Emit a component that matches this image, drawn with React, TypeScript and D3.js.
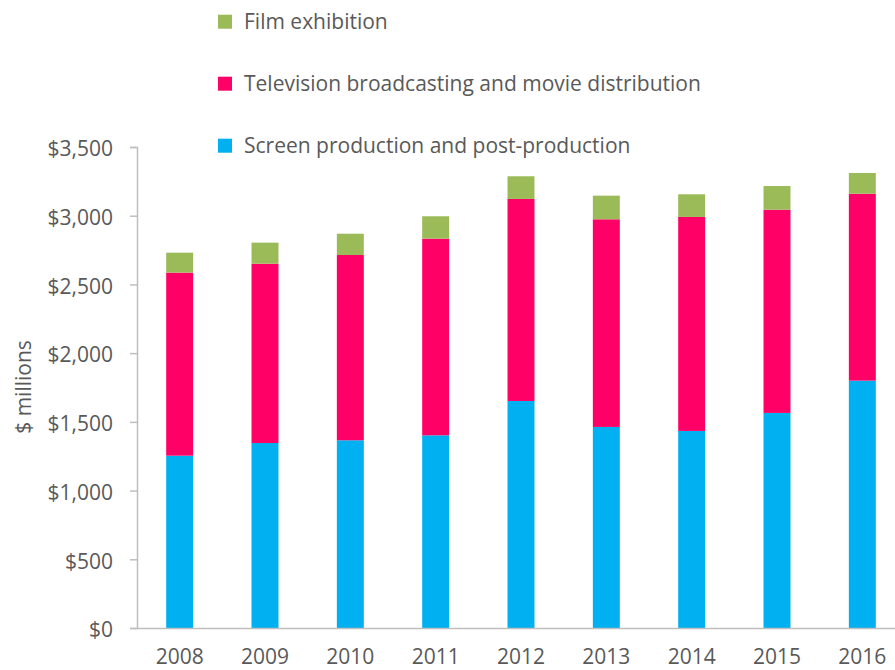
import * as d3 from "d3";
import { useEffect, useRef } from "react";

// values ($ millions)
const years = ["2008", "2009", "2010", "2011", "2012", "2013", "2014", "2015", "2016"];
const screenProduction = [1254, 1346, 1366, 1402, 1652, 1463, 1434, 1565, 1800];
const tvBroadcasting = [1332, 1305, 1348, 1431, 1470, 1511, 1557, 1479, 1360];
const filmExhibition = [145, 153, 155, 163, 165, 172, 165, 172, 151];
const yTicks = [0, 500, 1000, 1500, 2000, 2500, 3000, 3500];

const seriesNames = [
  "Screen production and post-production",
  "Television broadcasting and movie distribution",
  "Film exhibition",
];
const colors = ["#00B0F0", "#FF0066", "#9BBB59"];

const W = 895;
const H = 670;
const FONT = "'Open Sans', 'Noto Sans', sans-serif";
const TEXT = "#595959";

export default function App() {
  const ref = useRef<SVGSVGElement | null>(null);

  useEffect(() => {
    const svg = d3.select(ref.current);
    svg.selectAll("*").remove();

    const left = 137;
    const top = 147;
    const bottom = 628;
    const right = 905; // plot runs past the picture edge, like the source

    const rows = years.map((y, i) => ({
      year: y,
      s0: screenProduction[i],
      s1: tvBroadcasting[i],
      s2: filmExhibition[i],
    }));
    const layers = d3.stack<any>().keys(["s0", "s1", "s2"])(rows);

    const x = d3.scaleBand().domain(years).range([left, right]).paddingInner(0.684).paddingOuter(0.342);
    const y = d3.scaleLinear().domain([0, 3500]).range([bottom, top]);

    // bars
    svg
      .append("g")
      .selectAll("g")
      .data(layers)
      .join("g")
      .attr("fill", (_d, i) => colors[i])
      .selectAll("rect")
      .data((d) => d)
      .join("rect")
      .attr("x", (d: any) => x(d.data.year)!)
      .attr("width", x.bandwidth())
      .attr("y", (d) => y(d[1]))
      .attr("height", (d) => y(d[0]) - y(d[1]));

    // y axis
    const yAxis = svg
      .append("g")
      .attr("transform", `translate(${left},0)`)
      .call(
        d3
          .axisLeft(y)
          .tickValues(yTicks)
          .tickSize(7)
          .tickPadding(17)
          .tickFormat((d) => "$" + d3.format(",")(d as number))
      );
    yAxis.select(".domain").attr("stroke", "#BFBFBF").attr("stroke-width", 1.5);
    yAxis.selectAll(".tick line").attr("stroke", "#BFBFBF").attr("stroke-width", 1.5);
    yAxis
      .selectAll(".tick text")
      .attr("fill", TEXT)
      .attr("font-family", FONT)
      .attr("font-size", 21)
      .attr("dy", "0.42em");

    // x axis
    const xAxis = svg
      .append("g")
      .attr("transform", `translate(0,${bottom})`)
      .call(d3.axisBottom(x).tickSize(0).tickPadding(21));
    xAxis.select(".domain").attr("stroke", "#BFBFBF").attr("stroke-width", 1.5);
    xAxis
      .selectAll(".tick text")
      .attr("fill", TEXT)
      .attr("font-family", FONT)
      .attr("font-size", 21);

    // y axis title
    svg
      .append("text")
      .attr("transform", `translate(31,387) rotate(-90)`)
      .attr("text-anchor", "middle")
      .attr("fill", TEXT)
      .attr("font-family", FONT)
      .attr("font-size", 21)
      .text("$ millions");

    // legend, top entry is the top segment
    const legend = svg.append("g");
    [2, 1, 0].forEach((s, k) => {
      const cy = 21.7 + k * 62;
      legend
        .append("rect")
        .attr("x", 218)
        .attr("y", cy - 7)
        .attr("width", 14)
        .attr("height", 14)
        .attr("fill", colors[s]);
      legend
        .append("text")
        .attr("x", 244)
        .attr("y", cy + 7.5)
        .attr("fill", TEXT)
        .attr("font-family", FONT)
        .attr("font-size", 21)
        .text(seriesNames[s]);
    });
  }, []);

  return (
    <svg
      ref={ref}
      width={W}
      height={H}
      style={{ position: "absolute", left: 0, top: 0, background: "#fff" }}
    />
  );
}
